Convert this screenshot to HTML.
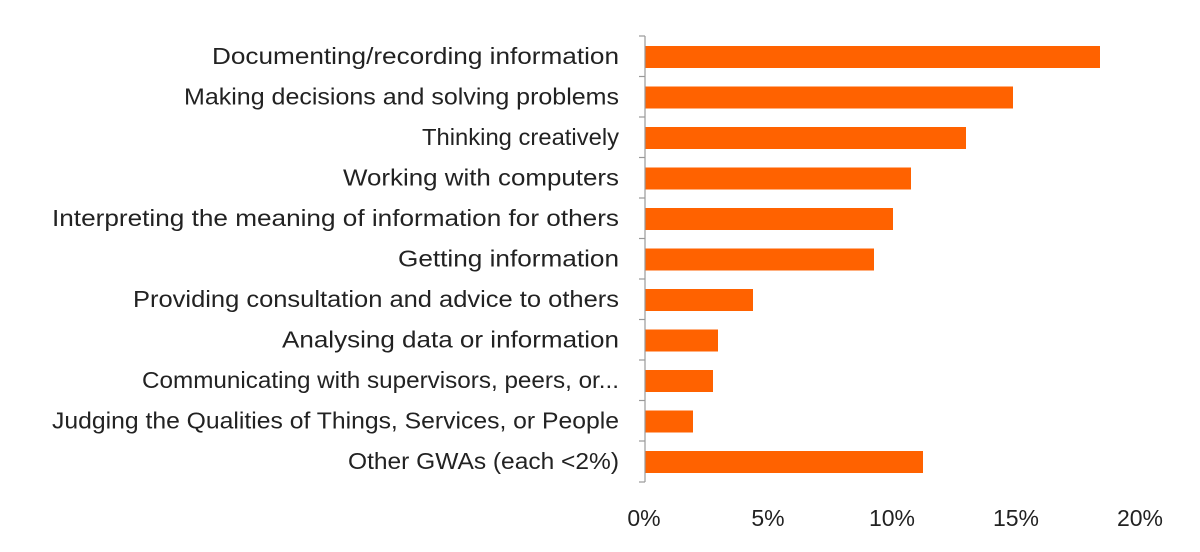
<!DOCTYPE html>
<html><head><style>
body{margin:0;background:#fff;}
</style></head><body>
<svg width="1200" height="552" xmlns="http://www.w3.org/2000/svg" style="display:block;font-family:'Liberation Sans',sans-serif;">
<g fill="#ff6200">
<rect x="645" y="46" width="455" height="22"/>
<rect x="645" y="86.5" width="368" height="22"/>
<rect x="645" y="127" width="321" height="22"/>
<rect x="645" y="167.5" width="266" height="22"/>
<rect x="645" y="208" width="248" height="22"/>
<rect x="645" y="248.5" width="229" height="22"/>
<rect x="645" y="289" width="108" height="22"/>
<rect x="645" y="329.5" width="73" height="22"/>
<rect x="645" y="370" width="68" height="22"/>
<rect x="645" y="410.5" width="48" height="22"/>
<rect x="645" y="451" width="278" height="22"/>
</g>
<g stroke="#999" stroke-width="1.2">
<line x1="645" y1="36" x2="645" y2="482"/>
<line x1="639" y1="36" x2="645" y2="36"/>
<line x1="639" y1="76.5" x2="645" y2="76.5"/>
<line x1="639" y1="117" x2="645" y2="117"/>
<line x1="639" y1="157.5" x2="645" y2="157.5"/>
<line x1="639" y1="198" x2="645" y2="198"/>
<line x1="639" y1="238.5" x2="645" y2="238.5"/>
<line x1="639" y1="279" x2="645" y2="279"/>
<line x1="639" y1="319.5" x2="645" y2="319.5"/>
<line x1="639" y1="360" x2="645" y2="360"/>
<line x1="639" y1="400.5" x2="645" y2="400.5"/>
<line x1="639" y1="441" x2="645" y2="441"/>
<line x1="639" y1="482" x2="645" y2="482"/>
</g>
<g fill="#222" font-size="23" text-anchor="end" lengthAdjust="spacingAndGlyphs">
<text x="619" y="64" textLength="407" lengthAdjust="spacingAndGlyphs">Documenting/recording information</text>
<text x="619" y="104.5" textLength="435" lengthAdjust="spacingAndGlyphs">Making decisions and solving problems</text>
<text x="619" y="145" textLength="197" lengthAdjust="spacingAndGlyphs">Thinking creatively</text>
<text x="619" y="185.5" textLength="276" lengthAdjust="spacingAndGlyphs">Working with computers</text>
<text x="619" y="226" textLength="567" lengthAdjust="spacingAndGlyphs">Interpreting the meaning of information for others</text>
<text x="619" y="266.5" textLength="221" lengthAdjust="spacingAndGlyphs">Getting information</text>
<text x="619" y="307" textLength="486" lengthAdjust="spacingAndGlyphs">Providing consultation and advice to others</text>
<text x="619" y="347.5" textLength="337" lengthAdjust="spacingAndGlyphs">Analysing data or information</text>
<text x="619" y="388" textLength="477" lengthAdjust="spacingAndGlyphs">Communicating with supervisors, peers, or...</text>
<text x="619" y="428.5" textLength="567" lengthAdjust="spacingAndGlyphs">Judging the Qualities of Things, Services, or People</text>
<text x="619" y="469" textLength="271" lengthAdjust="spacingAndGlyphs">Other GWAs (each &lt;2%)</text>
</g>
<g fill="#222" font-size="23" text-anchor="middle">
<text x="644" y="526">0%</text>
<text x="768" y="526">5%</text>
<text x="892" y="526">10%</text>
<text x="1016" y="526">15%</text>
<text x="1140" y="526">20%</text>
</g>
</svg>
</body></html>
